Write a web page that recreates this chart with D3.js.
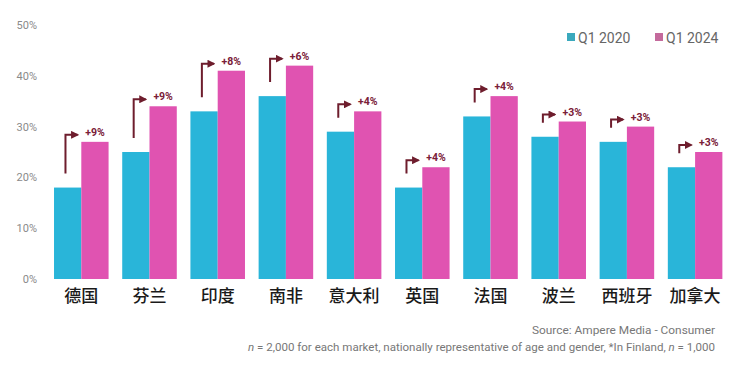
<!DOCTYPE html>
<html><head><meta charset="utf-8">
<script src="https://cdn.jsdelivr.net/npm/d3@7"></script>
<style>html,body{margin:0;padding:0;background:#fff;}svg{display:block;}</style>
</head><body>
<svg id="c" width="742" height="365"></svg>
<script>
const categories = ["德国","芬兰","印度","南非","意大利","英国","法国","波兰","西班牙","加拿大"];
const q2020 = [18,25,33,36,29,18,32,28,27,22];
const q2024 = [27,34,41,42,33,22,36,31,30,25];
const changeLabels = ["+9%","+9%","+8%","+6%","+4%","+4%","+4%","+3%","+3%","+3%"];
const seriesNames = ["Q1 2020","Q1 2024"];
const yTicks = [0,10,20,30,40,50];
const sourceText = "Source: Ampere Media - Consumer";
const noteParts = ["n"," = 2,000 for each market, nationally representative of age and gender, *In Finland, ","n"," = 1,000"];

const colors = ["#29b5d9","#e053b1"];
const legendColors = ["#3aa9bd","#c46a9c"];
const annColor = "#6e1d2d";

const svg = d3.select("#c");
const x0 = d3.scaleBand().domain(categories).range([47.2, 729.2]).paddingInner(0.2).paddingOuter(0.1);
const x1 = d3.scaleBand().domain(seriesNames).range([0, x0.bandwidth()]);
const y = d3.scaleLinear().domain([0,50]).range([279,25]);

// y axis labels
const yAxis = d3.axisLeft(y).tickValues(yTicks).tickFormat(d => d + "%").tickSize(0).tickPadding(0);
const yg = svg.append("g").attr("transform","translate(37,0)").call(yAxis);
yg.select(".domain").remove();
yg.selectAll("text").attr("fill","#8a8a8a").style("font-family","Roboto, sans-serif").style("font-size","11px");

// bars
const groups = svg.append("g").selectAll("g").data(categories).join("g")
  .attr("transform", d => `translate(${x0(d)},0)`);
groups.append("rect")
  .attr("x", x1(seriesNames[0])).attr("width", x1.bandwidth())
  .attr("y", (d,i) => y(q2020[i])).attr("height", (d,i) => y(0) - y(q2020[i]))
  .attr("fill", colors[0]);
groups.append("rect")
  .attr("x", x1(seriesNames[1])).attr("width", x1.bandwidth())
  .attr("y", (d,i) => y(q2024[i])).attr("height", (d,i) => y(0) - y(q2024[i]))
  .attr("fill", colors[1]);

// arrows
svg.append("defs").append("marker").attr("id","ah").attr("viewBox","0 0 10 10")
  .attr("refX",8).attr("refY",5).attr("markerWidth",4).attr("markerHeight",4).attr("orient","auto")
  .append("path").attr("d","M0,0L10,5L0,10z").attr("fill",annColor);
groups.append("path")
  .attr("d", (d,i) => {
    const bw = x0.bandwidth();
    const vx = bw*0.21, hx = bw*0.43;
    const ys = y(q2020[i]) - 14, ye = y(q2024[i]) - 7;
    return `M${vx},${ys}V${ye}H${hx}`;
  })
  .attr("fill","none").attr("stroke",annColor).attr("stroke-width",2).attr("marker-end","url(#ah)");
groups.append("text")
  .attr("x", x1(seriesNames[1]) + x1.bandwidth()/2)
  .attr("y", (d,i) => y(q2024[i]) - 6)
  .attr("text-anchor","middle").attr("fill","#7a2038")
  .style("font-family","Roboto, sans-serif").style("font-size","10.5px").style("font-weight","bold")
  .text((d,i) => changeLabels[i]);

// x axis labels
const xAxis = d3.axisBottom(x0).tickSize(0).tickPadding(0);
const xg = svg.append("g").attr("transform","translate(0,290)").call(xAxis);
xg.select(".domain").remove();
xg.selectAll("text").attr("fill","#1a1a1a").attr("dy","0.71em")
  .style("font-family","'Noto Sans CJK SC', sans-serif").style("font-size","17px").style("font-weight","500");

// legend
const legX = [567, 655];
const leg = svg.append("g").selectAll("g").data(seriesNames).join("g")
  .attr("transform",(d,i)=>`translate(${legX[i]},33)`);
leg.append("rect").attr("width",8).attr("height",8).attr("fill",(d,i)=>legendColors[i]);
leg.append("text").attr("x",11).attr("y",9.5).text(d=>d).attr("fill","#666")
  .style("font-family","Roboto, sans-serif").style("font-size","14px");

// footer
svg.append("text").attr("x",715).attr("y",334).attr("text-anchor","end").attr("fill","#777")
  .style("font-family","Roboto, sans-serif").style("font-size","11.5px")
  .attr("textLength",183).attr("lengthAdjust","spacingAndGlyphs").text(sourceText);
const note = svg.append("text").attr("x",248).attr("y",351).attr("fill","#777")
  .style("font-family","Roboto, sans-serif").style("font-size","11.5px")
  .attr("textLength",467).attr("lengthAdjust","spacingAndGlyphs");
note.selectAll("tspan").data(noteParts).join("tspan")
  .style("font-style",(d,i)=> (i===0||i===2) ? "italic" : "normal").text(d=>d);
</script>
</body></html>
